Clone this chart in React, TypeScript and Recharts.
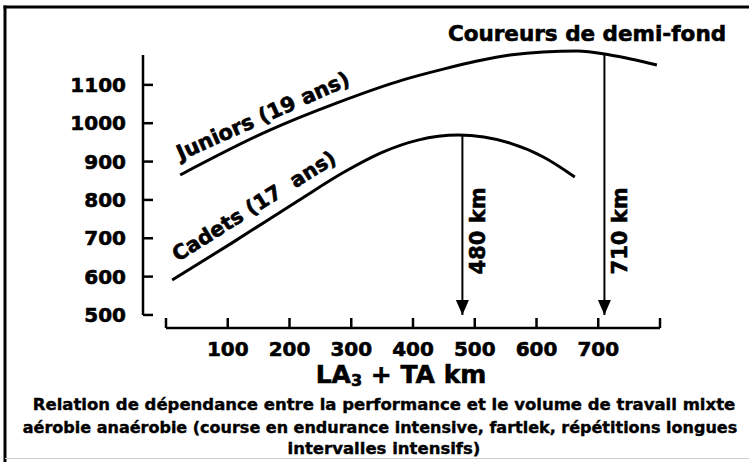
import { LineChart, Line, XAxis, YAxis } from "recharts";

// volume (km) and performance points
const juniorsKm = [23, 168, 277, 384, 449, 504, 557, 611, 666, 719, 795];
const juniorsPerf = [865, 982, 1053, 1113, 1141, 1162, 1178, 1186, 1188, 1178, 1152];
const cadetsKm = [10, 107, 214, 290, 350, 408, 473, 557, 611, 662];
const cadetsPerf = [591, 688, 798, 874, 924, 956, 969, 948, 912, 860];

const xTicks = [0, 100, 200, 300, 400, 500, 600, 700, 800];
const xLabelled = [100, 200, 300, 400, 500, 600, 700];
const yTicks = [500, 600, 700, 800, 900, 1000, 1100];

const arrowKm = [480, 710];
const arrowTop = [969, 1180];
const arrowBottom = 500;

const juniors = juniorsKm.map((km, i) => ({ km, perf: juniorsPerf[i] }));
const cadets = cadetsKm.map((km, i) => ({ km, perf: cadetsPerf[i] }));
const arrows = arrowKm.map((km, i) => [
  { km, perf: arrowTop[i] },
  { km, perf: arrowBottom },
]);

const FONT = "'DejaVu Sans', sans-serif";
const heavy = { stroke: "#000", strokeWidth: 0.6 };

function XTick(props: any) {
  const { x, y, payload } = props;
  return (
    <g>
      <line x1={x} y1={y - 10} x2={x} y2={y} stroke="#000" strokeWidth={2.5} />
      {xLabelled.includes(payload.value) && (
        <text
          x={x}
          y={y + 21}
          textAnchor="middle"
          dominantBaseline="central"
          fontFamily={FONT}
          fontWeight="bold"
          fontSize={20}
          fill="#000"
          {...heavy}
        >
          {payload.value}
        </text>
      )}
    </g>
  );
}

function YTick(props: any) {
  const { x, y, payload } = props;
  return (
    <g>
      <line x1={x} y1={y} x2={x + 10} y2={y} stroke="#000" strokeWidth={2.5} />
      <text
        x={x - 17}
        y={y}
        textAnchor="end"
        dominantBaseline="central"
        fontFamily={FONT}
        fontWeight="bold"
        fontSize={20}
        fill="#000"
        {...heavy}
      >
        {payload.value}
      </text>
    </g>
  );
}

function ArrowHead(props: any) {
  const { cx, cy, index } = props;
  if (index !== 1) return <g key={`n${index}`} />;
  return (
    <path
      key={`h${index}`}
      d={`M${cx - 6.5},${cy - 15} L${cx + 6.5},${cy - 15} L${cx},${cy} Z`}
      fill="#000"
    />
  );
}

function arrowLabel(text: string) {
  return (props: any) => {
    const { x, y, index } = props;
    if (index !== 1) return <g key={`l${index}`} />;
    const lx = x + 16;
    const ly = y - 84;
    return (
      <text
        key={`t${index}`}
        x={lx}
        y={ly}
        transform={`rotate(-90 ${lx} ${ly})`}
        textAnchor="middle"
        dominantBaseline="central"
        fontFamily={FONT}
        fontWeight="bold"
        fontSize={21}
        fill="#000"
        {...heavy}
      >
        {text}
      </text>
    );
  };
}

export default function App() {
  return (
    <div
      style={{
        position: "absolute",
        left: 0,
        top: 0,
        width: 749,
        height: 462,
        background: "#fff",
        overflow: "hidden",
      }}
    >
      <LineChart width={749} height={462} margin={{ top: 40, right: 89, bottom: 94, left: 83 }}>
        <XAxis
          type="number"
          dataKey="km"
          domain={[0, 800]}
          ticks={xTicks}
          interval={0}
          padding={{ left: 23, right: 0 }}
          height={40}
          tickSize={0}
          tickMargin={0}
          tickLine={false}
          tick={<XTick />}
          axisLine={{ stroke: "#000", strokeWidth: 2.5, strokeDasharray: "0 23 1000" }}
        />
        <YAxis
          type="number"
          domain={[466, 1217]}
          ticks={yTicks}
          interval={0}
          width={60}
          tickSize={0}
          tickMargin={0}
          tickLine={false}
          tick={<YTick />}
          axisLine={{ stroke: "#000", strokeWidth: 2.5, strokeDasharray: "0 15 260 1000" }}
        />
        <Line
          data={juniors}
          dataKey="perf"
          type="monotone"
          stroke="#000"
          strokeWidth={3}
          dot={false}
          isAnimationActive={false}
        />
        <Line
          data={cadets}
          dataKey="perf"
          type="monotone"
          stroke="#000"
          strokeWidth={3}
          dot={false}
          isAnimationActive={false}
        />
        {arrows.map((a, i) => (
          <Line
            key={i}
            data={a}
            dataKey="perf"
            type="linear"
            stroke="#000"
            strokeWidth={2}
            dot={<ArrowHead />}
            label={arrowLabel(`${arrowKm[i]} km`)}
            isAnimationActive={false}
          />
        ))}
      </LineChart>
      <svg
        width={749}
        height={462}
        style={{ position: "absolute", left: 0, top: 0, pointerEvents: "none" }}
        fontFamily={FONT}
        fontWeight="bold"
      >
        <line x1={5} y1={5.5} x2={5} y2={462} stroke="#000" strokeWidth={3} />
        <line x1={3.5} y1={7} x2={749} y2={7} stroke="#000" strokeWidth={3} />
        <line x1={5} y1={458.5} x2={749} y2={458.5} stroke="#ccc" strokeWidth={1} />
        <g {...heavy}>
          <text x={587} y={33} textAnchor="middle" dominantBaseline="central" fontSize={21.5}>
            Coureurs de demi-fond
          </text>
          <text
            x={263}
            y={116}
            transform="rotate(-24 263 116)"
            textAnchor="middle"
            dominantBaseline="central"
            fontSize={21}
          >
            Juniors (19 ans)
          </text>
          <text
            x={254}
            y={206}
            transform="rotate(-32 254 206)"
            textAnchor="middle"
            dominantBaseline="central"
            fontSize={20.5}
            style={{ whiteSpace: "pre" }}
          >
            {"Cadets (17  ans)"}
          </text>
          <text x={401} y={374} textAnchor="middle" dominantBaseline="central" fontSize={25}>
            LA
            <tspan fontSize={16} dy={6}>3</tspan>
            <tspan dy={-6}> + TA km</tspan>
          </text>
          <g fontSize={16.5} textAnchor="middle" strokeWidth={0.4}>
            <text x={384} y={410}>
              Relation de dépendance entre la performance et le volume de travail mixte
            </text>
            <text x={380} y={433} fontSize={16}>
              aérobie anaérobie (course en endurance intensive, fartlek, répétitions longues
            </text>
            <text x={384} y={454}>
              intervalles intensifs)
            </text>
          </g>
        </g>
      </svg>
    </div>
  );
}
